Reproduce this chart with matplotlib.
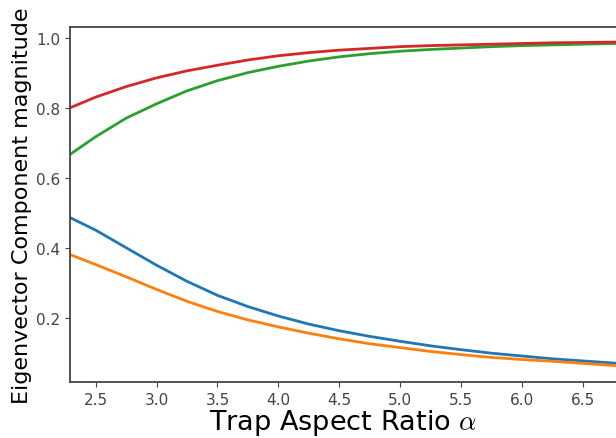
import numpy as np
import matplotlib.pyplot as plt

plt.rcParams['mathtext.fontset'] = 'cm'

# trap aspect ratio values
alpha = [2.3, 2.5, 2.75, 3.0, 3.25, 3.5, 3.75, 4.0, 4.25, 4.5,
         4.75, 5.0, 5.25, 5.5, 5.75, 6.0, 6.25, 6.5, 6.75, 7.0]

# eigenvector components
comp_blue = [0.486, 0.452, 0.402, 0.352, 0.306, 0.266, 0.234, 0.207, 0.184, 0.165,
             0.149, 0.135, 0.122, 0.111, 0.101, 0.093, 0.085, 0.079, 0.073, 0.068]
comp_orange = [0.381, 0.354, 0.319, 0.283, 0.249, 0.220, 0.196, 0.176, 0.158, 0.142,
               0.128, 0.117, 0.106, 0.097, 0.089, 0.083, 0.078, 0.072, 0.066, 0.062]
comp_green = [0.670, 0.718, 0.771, 0.812, 0.849, 0.878, 0.901, 0.919, 0.934, 0.946,
              0.955, 0.962, 0.967, 0.971, 0.975, 0.978, 0.980, 0.982, 0.984, 0.985]
comp_red = [0.802, 0.831, 0.861, 0.886, 0.906, 0.922, 0.937, 0.949, 0.958, 0.965,
            0.970, 0.975, 0.978, 0.980, 0.982, 0.984, 0.986, 0.987, 0.988, 0.989]

fig = plt.figure(figsize=(6.16, 4.39), dpi=100)
ax = fig.add_axes([0.1136, 0.1276, 0.8864, 0.8086])

ax.plot(alpha, comp_blue, color='tab:blue', lw=2)
ax.plot(alpha, comp_orange, color='tab:orange', lw=2)
ax.plot(alpha, comp_green, color='tab:green', lw=2)
ax.plot(alpha, comp_red, color='tab:red', lw=2)

ax.set_xlim(2.29, 6.77)
ax.set_ylim(0.019, 1.031)
ax.set_xticks([2.5, 3.0, 3.5, 4.0, 4.5, 5.0, 5.5, 6.0, 6.5])
ax.set_yticks([0.2, 0.4, 0.6, 0.8, 1.0])
ax.tick_params(labelsize=11, colors='#444444', labelcolor='#444444')
for s in ax.spines.values():
    s.set_color('#444444')
    s.set_linewidth(1.3)
ax.spines['right'].set_visible(False)

ax.set_xlabel(r'Trap Aspect Ratio $\alpha$', fontsize=19.5, labelpad=0)
ax.set_ylabel('Eigenvector Component magnitude', fontsize=16, labelpad=3)

plt.savefig('out.png', dpi=100)
